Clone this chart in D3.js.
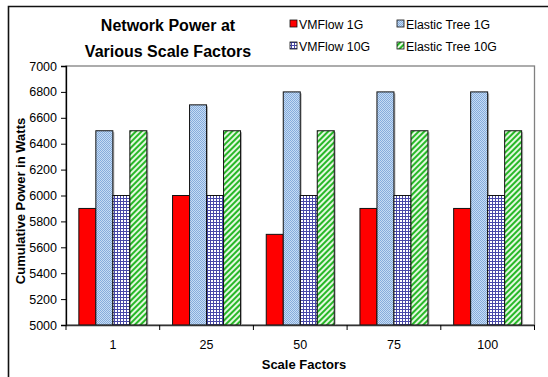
<!DOCTYPE html>
<html><head><meta charset="utf-8">
<script src="https://cdn.jsdelivr.net/npm/d3@7"></script>
<style>body{margin:0;background:#fff}svg{display:block;font-family:Arial,"Liberation Sans",sans-serif}</style>
</head><body>
<svg id="c" width="548" height="377"></svg>
<script>
const categories = ["1","25","50","75","100"];
const seriesNames = ["VMFlow 1G","Elastic Tree 1G","VMFlow 10G","Elastic Tree 10G"];
const vmflow1G = [5900,6000,5700,5900,5900];
const elastic1G = [6500,6700,6800,6800,6800];
const vmflow10G = [6000,6000,6000,6000,6000];
const elastic10G = [6500,6500,6500,6500,6500];
const yTicks = [5000,5200,5400,5600,5800,6000,6200,6400,6600,6800,7000];
const series = [vmflow1G, elastic1G, vmflow10G, elastic10G];

const FF = "Arial,'Liberation Sans',sans-serif";
const svg = d3.select("#c");
const defs = svg.append("defs");
// patterns
const p1 = defs.append("pattern").attr("id","pE1").attr("width",2).attr("height",2).attr("patternUnits","userSpaceOnUse");
p1.append("rect").attr("width",2).attr("height",2).attr("fill","#c6dcf4");
p1.append("rect").attr("width",1).attr("height",1).attr("fill","#86acdc");
p1.append("rect").attr("x",1).attr("y",1).attr("width",1).attr("height",1).attr("fill","#86acdc");
const p2 = defs.append("pattern").attr("id","pV10").attr("width",3).attr("height",3).attr("patternUnits","userSpaceOnUse");
p2.append("rect").attr("width",3).attr("height",3).attr("fill","#ffffff");
p2.append("rect").attr("width",3).attr("height",1).attr("fill","#4848a8");
p2.append("rect").attr("width",1).attr("height",3).attr("fill","#4848a8");
const p3 = defs.append("pattern").attr("id","pE10").attr("width",4).attr("height",4).attr("patternUnits","userSpaceOnUse").attr("patternTransform","rotate(45)");
p3.append("rect").attr("width",4).attr("height",4).attr("fill","#e4f8e0");
p3.append("rect").attr("width",2).attr("height",4).attr("fill","#28b828");
const fills = ["#ff0000","url(#pE1)","url(#pV10)","url(#pE10)"];

// outer frame
svg.append("path").attr("d","M8.5,380 V6.5 H552").attr("fill","none").attr("stroke","#111").attr("stroke-width",1.6);

const L=66, R=534.5, T=66, B=325;
const x0 = d3.scaleBand().domain(categories).range([L,R]).paddingInner(0).paddingOuter(0);
const innerW = 68, bw = 17;
const y = d3.scaleLinear().domain([5000,7000]).range([B,T]);

// plot border
svg.append("rect").attr("x",L).attr("y",T).attr("width",R-L).attr("height",B-T).attr("fill","none").attr("stroke","#808080").attr("stroke-width",1.3);

// bars
categories.forEach((c,ci)=>{
  const cx = x0(c) + x0.bandwidth()/2;
  series.forEach((s,si)=>{
    const bx = cx - innerW/2 + si*bw;
    svg.append("rect").attr("x",bx+1.5).attr("y",y(s[ci])+1.5).attr("width",bw).attr("height",B-y(s[ci])-1.5).attr("fill","#b8b8b8");
  });
  series.forEach((s,si)=>{
    const bx = cx - innerW/2 + si*bw;
    svg.append("rect").attr("x",bx).attr("y",y(s[ci])).attr("width",bw).attr("height",B-y(s[ci]))
      .attr("fill",fills[si]).attr("stroke","#111").attr("stroke-width",1);
  });
});

// y axis
const ya = svg.append("g").attr("transform",`translate(${L},0)`).call(d3.axisLeft(y).tickValues(yTicks).tickSize(5).tickPadding(4).tickFormat(d3.format("d")));
ya.select(".domain").attr("stroke","#000").attr("stroke-width",1.3);
ya.selectAll(".tick line").attr("stroke","#000");
ya.selectAll("text").attr("font-size",12.5).attr("fill","#000").attr("font-family",FF);

// x axis
const xa = svg.append("g").attr("transform",`translate(0,${B})`).call(d3.axisBottom(x0).tickSize(0).tickPadding(15));
xa.select(".domain").attr("stroke","#333").attr("stroke-width",1.3);
xa.selectAll("text").attr("font-size",12.5).attr("fill","#000").attr("font-family",FF);
categories.concat(["end"]).forEach((c,i)=>{
  const tx = i<categories.length ? x0(c) : R;
  svg.append("line").attr("x1",tx).attr("x2",tx).attr("y1",B).attr("y2",B+5).attr("stroke","#000");
});

// titles
svg.append("text").attr("x",168).attr("y",31).attr("text-anchor","middle").attr("font-size",16).attr("font-weight","bold").text("Network Power at");
svg.append("text").attr("x",168).attr("y",57).attr("text-anchor","middle").attr("font-size",16).attr("font-weight","bold").text("Various Scale Factors");
svg.append("text").attr("x",304).attr("y",369).attr("text-anchor","middle").attr("font-size",13).attr("font-weight","bold").text("Scale Factors");
svg.append("text").attr("transform","translate(25,201) rotate(-90)").attr("text-anchor","middle").attr("font-size",13).attr("font-weight","bold").text("Cumulative Power in Watts");

// legend
const legPos = [[290,24],[397,24],[290,46],[397,46]];
seriesNames.forEach((name,si)=>{
  const [lx,ly] = legPos[si];
  svg.append("rect").attr("x",lx).attr("y",ly-4).attr("width",7).attr("height",7).attr("fill",fills[si]).attr("stroke","#111").attr("stroke-width",0.8);
  svg.append("text").attr("x",lx+9).attr("y",ly+4.5).attr("font-size",12.3).text(name);
});
</script>
</body></html>
